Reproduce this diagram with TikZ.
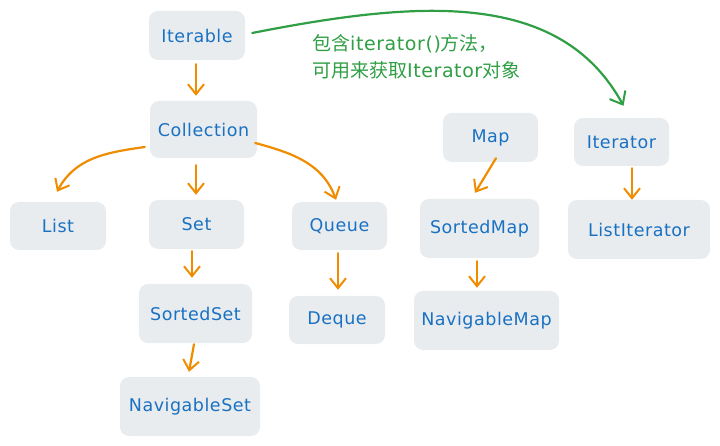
\documentclass[tikz,border=0pt]{standalone}
\usepackage{fontspec}
\setmainfont{DejaVu Sans}[LetterSpace=3]
\newfontfamily\cjk{Noto Sans CJK SC}
\usetikzlibrary{arrows.meta}
\definecolor{boxgray}{HTML}{E9ECEF}
\definecolor{txtblue}{HTML}{1971C2}
\definecolor{arrorange}{HTML}{F08C00}
\definecolor{arrgreen}{HTML}{2F9E44}
\tikzset{
  bx/.style={fill=boxgray, draw=none, rounded corners=9pt, text=txtblue, inner sep=0pt,
    font=\fontsize{17.5}{20}\selectfont},
  oarr/.style={draw=arrorange, line width=2.2pt, line cap=round, line join=round,
    -{Straight Barb[length=10pt,width=16pt,line width=2pt]}},
  garr/.style={draw=arrgreen, line width=2.2pt, line cap=round, line join=round,
    -{Straight Barb[length=11pt,width=18pt,line width=2pt]}},
}
\begin{document}
\begin{tikzpicture}[x=1pt,y=-1pt]
\useasboundingbox (0,0) rectangle (720,446);
% boxes
\node[bx, minimum width=96, minimum height=49] (iterable) at (197,35.5) {Iterable};
\node[bx, minimum width=107, minimum height=57] (collection) at (203.5,129.5) {Collection};
\node[bx, minimum width=96, minimum height=48] (list) at (58,226) {List};
\node[bx, minimum width=95, minimum height=49] (set) at (196.5,224.5) {Set};
\node[bx, minimum width=95, minimum height=48] (queue) at (339.5,226) {Queue};
\node[bx, minimum width=113, minimum height=59] (sortedset) at (195.5,313.5) {SortedSet};
\node[bx, minimum width=140, minimum height=59] (navset) at (190,406.5) {NavigableSet};
\node[bx, minimum width=96, minimum height=48] (deque) at (337,320) {Deque};
\node[bx, minimum width=95, minimum height=49] (map) at (490.5,137.5) {Map};
\node[bx, minimum width=119, minimum height=59] (sortedmap) at (479.5,228.5) {SortedMap};
\node[bx, minimum width=145, minimum height=59] (navmap) at (486.5,320.5) {NavigableMap};
\node[bx, minimum width=95, minimum height=48] (iterator) at (621.5,142) {Iterator};
\node[bx, minimum width=142, minimum height=59] (listiter) at (639,229.5) {ListIterator};
% label
\node[text=arrgreen, anchor=west, inner sep=0pt, align=left,
  font=\fontsize{19}{27}\selectfont] (lab) at (312,57)
  {{\cjk 包含}iterator(){\cjk 方法，}\\{\cjk 可用来获取}Iterator{\cjk 对象}};
% orange arrows
\draw[oarr] ([xshift=-1pt,yshift=-4pt]iterable.south) -- ([xshift=-7.5pt,yshift=5pt]collection.north);
\draw[oarr] ([xshift=-5pt,yshift=-17.5pt]collection.west) to[out=188,in=62] ([xshift=-1pt,yshift=10pt]list.north);
\draw[oarr] ([xshift=-7.5pt,yshift=-7pt]collection.south) -- ([xshift=-0.5pt,yshift=5pt]set.north);
\draw[oarr] ([xshift=-2pt,yshift=-13.5pt]collection.east) to[out=-15,in=110] ([xshift=-3.5pt,yshift=2pt]queue.north);
\draw[oarr] ([xshift=-4.5pt,yshift=-2pt]set.south) -- ([xshift=-3.5pt,yshift=6pt]sortedset.north);
\draw[oarr] ([xshift=-1.5pt,yshift=-1pt]sortedset.south) -- ([xshift=-1pt,yshift=5pt]navset.north);
\draw[oarr] ([xshift=-1.5pt,yshift=-3pt]queue.south) -- ([xshift=1pt,yshift=6pt]deque.north);
\draw[oarr] ([xshift=5.5pt,yshift=4pt]map.south) -- ([xshift=-4.5pt,yshift=6pt]sortedmap.north);
\draw[oarr] ([xshift=-2.5pt,yshift=-3pt]sortedmap.south) -- ([xshift=-9.5pt,yshift=3pt]navmap.north);
\draw[oarr] ([xshift=10.5pt,yshift=-2pt]iterator.south) -- ([xshift=-7pt,yshift=0pt]listiter.north);
% green arrow
\draw[garr] ([xshift=7pt,yshift=2.5pt]iterable.east) .. controls (420,0) and (560,-10) .. ([xshift=2pt,yshift=12pt]iterator.north);
\end{tikzpicture}
\end{document}
